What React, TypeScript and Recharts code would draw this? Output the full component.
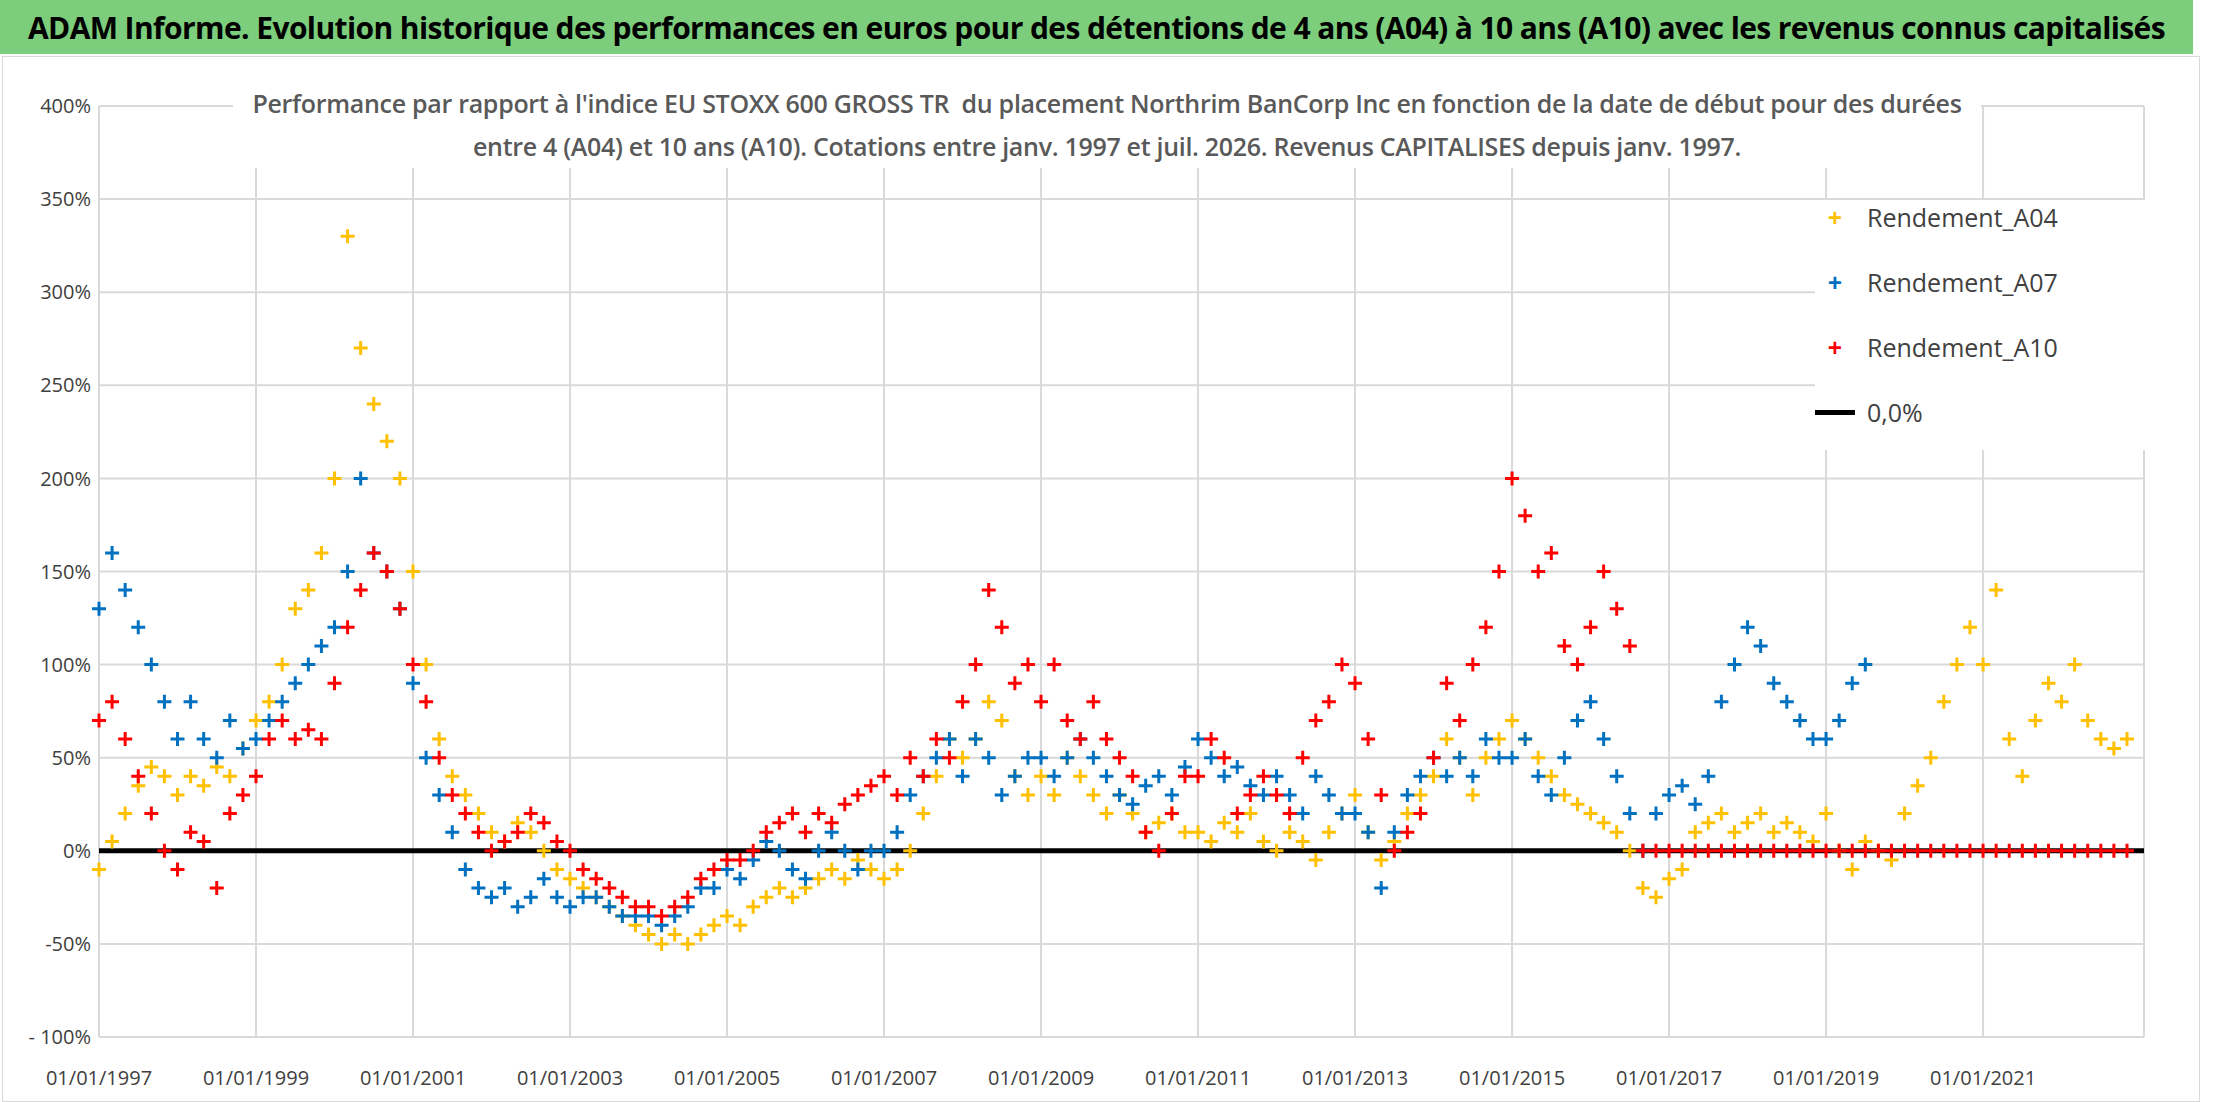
import { ScatterChart, Scatter, XAxis, YAxis, CartesianGrid, ReferenceLine } from "recharts";

// dates: decimal years, values every two months
const START_YEAR = 1997;
const STEP = 1 / 6;

const a04 = [
  -10, 5, 20, 35, 45, 40,
  30, 40, 35, 45, 40, 55,
  70, 80, 100, 130, 140, 160,
  200, 330, 270, 240, 220, 200,
  150, 100, 60, 40, 30, 20,
  10, 5, 15, 10, 0, -10,
  -15, -20, -25, -30, -35, -40,
  -45, -50, -45, -50, -45, -40,
  -35, -40, -30, -25, -20, -25,
  -20, -15, -10, -15, -5, -10,
  -15, -10, 0, 20, 40, 60,
  50, 60, 80, 70, 40, 30,
  40, 30, 50, 40, 30, 20,
  30, 20, 10, 15, 20, 10,
  10, 5, 15, 10, 20, 5,
  0, 10, 5, -5, 10, 20,
  30, 10, -5, 5, 20, 30,
  40, 60, 50, 30, 50, 60,
  70, 60, 50, 40, 30, 25,
  20, 15, 10, 0, -20, -25,
  -15, -10, 10, 15, 20, 10,
  15, 20, 10, 15, 10, 5,
  20, 0, -10, 5, 0, -5,
  20, 35, 50, 80, 100, 120,
  100, 140, 60, 40, 70, 90,
  80, 100, 70, 60, 55, 60,
];

const a07 = [
  130, 160, 140, 120, 100, 80,
  60, 80, 60, 50, 70, 55,
  60, 70, 80, 90, 100, 110,
  120, 150, 200, 160, 150, 130,
  90, 50, 30, 10, -10, -20,
  -25, -20, -30, -25, -15, -25,
  -30, -25, -25, -30, -35, -35,
  -35, -40, -35, -30, -20, -20,
  -10, -15, -5, 5, 0, -10,
  -15, 0, 10, 0, -10, 0,
  0, 10, 30, 40, 50, 60,
  40, 60, 50, 30, 40, 50,
  50, 40, 50, 60, 50, 40,
  30, 25, 35, 40, 30, 45,
  60, 50, 40, 45, 35, 30,
  40, 30, 20, 40, 30, 20,
  20, 10, -20, 10, 30, 40,
  50, 40, 50, 40, 60, 50,
  50, 60, 40, 30, 50, 70,
  80, 60, 40, 20, 0, 20,
  30, 35, 25, 40, 80, 100,
  120, 110, 90, 80, 70, 60,
  60, 70, 90, 100,
];

const a10 = [
  70, 80, 60, 40, 20, 0,
  -10, 10, 5, -20, 20, 30,
  40, 60, 70, 60, 65, 60,
  90, 120, 140, 160, 150, 130,
  100, 80, 50, 30, 20, 10,
  0, 5, 10, 20, 15, 5,
  0, -10, -15, -20, -25, -30,
  -30, -35, -30, -25, -15, -10,
  -5, -5, 0, 10, 15, 20,
  10, 20, 15, 25, 30, 35,
  40, 30, 50, 40, 60, 50,
  80, 100, 140, 120, 90, 100,
  80, 100, 70, 60, 80, 60,
  50, 40, 10, 0, 20, 40,
  40, 60, 50, 20, 30, 40,
  30, 20, 50, 70, 80, 100,
  90, 60, 30, 0, 10, 20,
  50, 90, 70, 100, 120, 150,
  200, 180, 150, 160, 110, 100,
  120, 150, 130, 110, 0, 0,
  0, 0, 0, 0, 0, 0,
  0, 0, 0, 0, 0, 0,
  0, 0, 0, 0, 0, 0,
  0, 0, 0, 0, 0, 0,
  0, 0, 0, 0, 0, 0,
  0, 0, 0, 0, 0, 0,
];

const xTicks = [1997, 1999, 2001, 2003, 2005, 2007, 2009, 2011, 2013, 2015, 2017, 2019, 2021];
const yTicks = [-100, -50, 0, 50, 100, 150, 200, 250, 300, 350, 400];

const toPoints = (vals: number[]) => vals.map((v, i) => ({ x: START_YEAR + i * STEP, y: v }));

const Plus = (color: string) => (props: any) => {
  const { cx, cy } = props;
  if (cx == null || cy == null) return <g />;
  return (
    <path
      d={`M${cx - 7},${cy}H${cx + 7}M${cx},${cy - 7}V${cy + 7}`}
      stroke={color}
      strokeWidth={3}
    />
  );
};

const font = "'Open Sans', sans-serif";

const legendItems = [
  { label: "Rendement_A04", color: "#ffc000" },
  { label: "Rendement_A07", color: "#0070c0" },
  { label: "Rendement_A10", color: "#ff0000" },
];

export default function App() {
  return (
    <div style={{ position: "absolute", left: 0, top: 0, width: 2216, height: 1102, background: "#fff", fontFamily: font }}>
      <div
        style={{
          position: "absolute", left: 0, top: 0, width: 2193, height: 54, background: "#7ccd7c",
          display: "flex", alignItems: "center", justifyContent: "center",
          fontWeight: 700, fontSize: 30, color: "#000", whiteSpace: "nowrap", letterSpacing: -0.6,
        }}
      >
        ADAM Informe. Evolution historique des performances en euros pour des détentions de 4 ans (A04) à 10 ans (A10) avec les revenus connus capitalisés
      </div>
      <div style={{ position: "absolute", left: 2, top: 56, width: 2196, height: 1044, border: "1px solid #d9d9d9" }} />
      <div style={{ position: "absolute", left: 0, top: 0 }}>
        <ScatterChart width={2216} height={1102} margin={{ top: 106, right: 72, bottom: 15, left: 10 }}>
          <CartesianGrid stroke="#d9d9d9" strokeWidth={2} />
          <XAxis
            type="number" dataKey="x" domain={[1997, 2023.05]} ticks={xTicks}
            tickFormatter={(v: number) => `01/01/${v}`} axisLine={{ stroke: "#d9d9d9" }} tickLine={false}
            tick={{ fill: "#404040", fontSize: 20, fontFamily: font }} height={50} tickMargin={28}
          />
          <YAxis
            type="number" dataKey="y" domain={[-100, 400]} ticks={yTicks}
            tickFormatter={(v: number) => (v === -100 ? "- 100%" : `${v}%`)} axisLine={false} tickLine={false}
            tick={{ fill: "#404040", fontSize: 20, fontFamily: font }} width={89}
          />
          <ReferenceLine y={0} stroke="#000" strokeWidth={5} />
          <Scatter name="Rendement_A04" data={toPoints(a04)} shape={Plus("#ffc000")} isAnimationActive={false} />
          <Scatter name="Rendement_A07" data={toPoints(a07)} shape={Plus("#0070c0")} isAnimationActive={false} />
          <Scatter name="Rendement_A10" data={toPoints(a10)} shape={Plus("#ff0000")} isAnimationActive={false} />
        </ScatterChart>
      </div>
      <div
        style={{
          position: "absolute", left: 233, top: 82, width: 1748, background: "#fff", textAlign: "center",
          color: "#595959", fontWeight: 600, fontSize: 25, lineHeight: "43px", letterSpacing: -0.3,
        }}
      >
        Performance par rapport à l'indice EU STOXX 600 GROSS TR&nbsp; du placement Northrim BanCorp Inc en fonction de la date de début pour des durées
        <br />
        entre 4 (A04) et 10 ans (A10). Cotations entre janv. 1997 et juil. 2026. Revenus CAPITALISES depuis janv. 1997.
      </div>
      <div style={{ position: "absolute", left: 1815, top: 200, width: 330, height: 250, background: "#fff" }}>
        {legendItems.map((it, i) => (
          <div key={it.label} style={{ position: "absolute", left: 0, top: i * 65, display: "flex", alignItems: "center", fontSize: 25, color: "#404040" }}>
            <span style={{ width: 40, textAlign: "center", color: it.color, fontWeight: 700 }}>+</span>
            <span style={{ marginLeft: 12 }}>{it.label}</span>
          </div>
        ))}
        <div style={{ position: "absolute", left: 0, top: 195, display: "flex", alignItems: "center", fontSize: 25, color: "#404040" }}>
          <span style={{ width: 40, height: 5, background: "#000" }} />
          <span style={{ marginLeft: 12 }}>0,0%</span>
        </div>
      </div>
    </div>
  );
}
